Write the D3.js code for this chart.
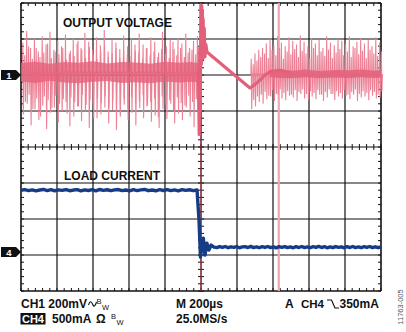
<!DOCTYPE html>
<html>
<head>
<meta charset="utf-8">
<script src="https://cdn.jsdelivr.net/npm/d3@7"></script>
<style>
  html, body { margin: 0; padding: 0; background: #fff; }
  svg { display: block; }
  text { font-family: "Liberation Sans", Arial, sans-serif; }
</style>
</head>
<body>
<svg id="chart" width="406" height="332"></svg>
<script>
// ---- Scope settings ----
const timeTicks = [-1000, -800, -600, -400, -200, 0, 200, 400, 600, 800, 1000]; // µs, 200 µs/div
const divTicks = [-4, -3, -2, -1, 0, 1, 2, 3, 4];
const ch1VoltsPerDiv = 200;   // mV/div
const ch1Offset = 2;          // divisions above centre
const ch4AmpsPerDiv = 500;    // mA/div
const ch4Offset = -2.92;      // divisions below centre
const cursorTime = 0;         // trigger position, µs
const markerTime = 432;       // second cursor, µs

// ---- CH1: output voltage (mV about the CH1 reference) ----
// main switching spikes before the load step
const rippleHiBefore = [180,245,150,200,130,215,170,240,140,190,160,225,120,205,175,150,235,185,140,210,165,250,130,195,180,145,220,160,200,135,230,170,150,210,185,125,240,160,195,145,205,175,230,150,190,215];
const rippleLoBefore = [-220,-160,-280,-190,-250,-170,-300,-210,-180,-265,-200,-150,-285,-230,-175,-255,-205,-295,-160,-240,-220,-180,-270,-195,-305,-230,-165,-250,-210,-280,-185,-240,-170,-260,-225,-295,-190,-245,-160,-270,-215,-250,-180,-230,-290,-200];
// smaller ringing between the main spikes
const ringHiBefore = [110,160,90,150,100,125,175,95,130,115,150,85,135,105,190,140,95,155,110,90,130,165,100,120,150,95,135,115,105,170,125,90,150,110,130,100,145,120,95,185,110,150,100,125,140,115];
const ringLoBefore = [-150,-110,-190,-130,-230,-120,-140,-185,-115,-160,-135,-215,-125,-150,-175,-110,-165,-140,-240,-130,-155,-120,-180,-145,-115,-220,-135,-190,-125,-160,-145,-110,-175,-150,-130,-235,-120,-165,-140,-195,-125,-155,-170,-115,-150,-135];
// dense ripple band before the step
const bandTimeBefore = [-1000,-920,-840,-760,-680,-600,-520,-440,-360,-280,-200,-120,-60,-14];
const bandHiBefore   = [66, 74, 62, 72, 68, 76, 64, 72, 70, 62, 74, 68, 72, 66];
const bandLoBefore   = [-36, -44, -32, -42, -46, -38, -34, -44, -40, -46, -36, -42, -38, -40];
// load-release transient and recovery
const stepTime = [-14, -10, -7, -4, -1, 2, 4, 6, 8, 10, 12, 15, 18, 22, 27, 33, 272, 300, 328, 355, 383, 439, 500];
const stepVolt = [20, -330, 150, -200, 390, 60, 385, 140, 360, 90, 310, 120, 260, 100, 170, 128, -72, -52, -28, 0, 17, 26, 12];
// switching spikes after recovery
const rippleHiAfter = [90,120,140,150,175,200,165,215,180,160,210,190,170,220,185,160,205,175,195,150,215,180,165,200,190,170,215,160,185,205,175,195,160,210,180];
const rippleLoAfter = [-190,-175,-150,-160,-135,-120,-145,-110,-130,-140,-115,-125,-145,-105,-130,-140,-120,-135,-110,-145,-125,-105,-140,-120,-130,-115,-135,-110,-145,-125,-120,-140,-115,-130,-125];
const ringHiAfter = [60,80,100,120,95,140,110,150,90,130,115,145,100,135,120,95,150,110,130,105,140,95,125,145,110,130,100,150,115,135,95,140,120,105,130];
const ringLoAfter = [-140,-120,-110,-95,-115,-85,-105,-80,-100,-90,-110,-85,-95,-80,-105,-90,-100,-85,-110,-95,-80,-105,-90,-100,-85,-110,-95,-80,-105,-90,-100,-85,-95,-110,-90];
const bandTimeAfter = [383, 439, 500, 580, 660, 740, 820, 900, 960, 1000];
const bandHiAfter   = [30, 26, 24, 30, 22, 28, 26, 30, 24, 28];
const bandLoAfter   = [-12, -16, -18, -12, -18, -14, -17, -12, -16, -14];

// ---- CH4: load current (mA) ----
const loadHigh = 860;
const loadLow = 69;
const loadHighJitter = [0,8,-6,5,-9,3,10,-5,7,-8,4,-3,9,-7,2,8,-10,5,-4,7,-8,10,-3,6,-7,4,9,-6,3,-9,7,-5,5,10,-7,3,-8,7,-4,9,-6,5,-9,8,-3,6,-7,4];
const loadLowJitter = [0,-7,8,-4,9,-8,5,-3,7,-9,4,8,-5,10,-7,3,-8,6,-4,9,-7,5,-10,7,-3,8,-6,4,-9,7,-5,9,-7,3,-8,6,-4,10,-5,7,-9,4,-7,8,-3,5,-9,7,-5,9,-6,3,-8,7,-4,9,-7,5,-8,5];
const dropTime = [-22, -11, -3, 13, 22, 33, 44, 56, 72];
const dropAmps = [860, 444, -69, 194, -42, 125, 28, 97, 69];

// ---- Scales ----
const plot = { left: 21, right: 381, top: 3, bottom: 291 };
const x = d3.scaleLinear().domain([timeTicks[0], timeTicks[timeTicks.length - 1]]).range([plot.left, plot.right]);
const yDiv = d3.scaleLinear().domain([divTicks[0], divTicks[divTicks.length - 1]]).range([plot.bottom, plot.top]);
const y1 = d3.scaleLinear()
  .domain([(divTicks[0] - ch1Offset) * ch1VoltsPerDiv, (divTicks[divTicks.length - 1] - ch1Offset) * ch1VoltsPerDiv])
  .range([plot.bottom, plot.top]);
const y4 = d3.scaleLinear()
  .domain([(divTicks[0] - ch4Offset) * ch4AmpsPerDiv, (divTicks[divTicks.length - 1] - ch4Offset) * ch4AmpsPerDiv])
  .range([plot.bottom, plot.top]);

const svg = d3.select("#chart");

// ---- Graticule ----
const grid = svg.append("g").attr("stroke", "#111").attr("fill", "none");
grid.selectAll("line.v").data(timeTicks).join("line")
  .attr("x1", d => x(d)).attr("x2", d => x(d))
  .attr("y1", plot.top).attr("y2", plot.bottom)
  .attr("stroke-width", (d, i) => (i === 0 || i === timeTicks.length - 1) ? 1.6 : 1.2);
grid.selectAll("line.h").data(divTicks).join("line")
  .attr("y1", d => yDiv(d)).attr("y2", d => yDiv(d))
  .attr("x1", plot.left).attr("x2", plot.right)
  .attr("stroke-width", (d, i) => (i === 0 || i === divTicks.length - 1) ? 1.6 : 1.2);

const minorT = d3.range(timeTicks[0], timeTicks[timeTicks.length - 1] + 1, 40);
const minorD = d3.range(divTicks[0], divTicks[divTicks.length - 1] + 0.001, 0.2);
const tk = 3;
const minor = svg.append("g").attr("stroke", "#111").attr("stroke-width", 1);
minor.selectAll("line.mt").data(minorT).join("line")
  .attr("x1", d => x(d)).attr("x2", d => x(d)).attr("y1", plot.top).attr("y2", plot.top + tk);
minor.selectAll("line.mb").data(minorT).join("line")
  .attr("x1", d => x(d)).attr("x2", d => x(d)).attr("y1", plot.bottom - tk).attr("y2", plot.bottom);
minor.selectAll("line.mc").data(minorT).join("line")
  .attr("x1", d => x(d)).attr("x2", d => x(d)).attr("y1", yDiv(0) - tk).attr("y2", yDiv(0) + tk);
minor.selectAll("line.ml").data(minorD).join("line")
  .attr("y1", d => yDiv(d)).attr("y2", d => yDiv(d)).attr("x1", plot.left).attr("x2", plot.left + tk);
minor.selectAll("line.mr").data(minorD).join("line")
  .attr("y1", d => yDiv(d)).attr("y2", d => yDiv(d)).attr("x1", plot.right - tk).attr("x2", plot.right);
minor.selectAll("line.mv").data(minorD).join("line")
  .attr("y1", d => yDiv(d)).attr("y2", d => yDiv(d)).attr("x1", x(0) - tk).attr("x2", x(0) + tk);

// ---- Cursors ----
svg.append("line")
  .attr("x1", x(markerTime)).attr("x2", x(markerTime)).attr("y1", plot.top).attr("y2", plot.bottom)
  .attr("stroke", "#f3a4b4").attr("stroke-width", 2.2);
svg.append("line")
  .attr("x1", x(cursorTime)).attr("x2", x(cursorTime)).attr("y1", plot.top).attr("y2", plot.bottom)
  .attr("stroke", "#c4344b").attr("stroke-width", 1);

// ---- CH1 trace ----
const line1 = d3.line().x(d => x(d[0])).y(d => y1(d[1]));
// each spike leaves the band, rings up and down, and returns
function spikes(t0, t1, hi, lo, base) {
  const step = (t1 - t0) / (hi.length - 1);
  const pts = [];
  hi.forEach((h, i) => {
    const t = t0 + i * step;
    pts.push([t, base], [t + 2, h], [t + 5, lo[i]], [t + 8, base]);
  });
  return pts;
}
const ch1 = svg.append("g");
const bandColor = "#e4607a";
const spikeColor = "#ec8196";

const spikeSets = [
  [-981, -31, ringHiBefore, ringLoBefore, 15],
  [-992, -22, rippleHiBefore, rippleLoBefore, 15],
  [288, 1000, ringHiAfter, ringLoAfter, 5],
  [277, 990, rippleHiAfter, rippleLoAfter, 5]
];
spikeSets.forEach(([t0, t1, hi, lo, base]) => {
  ch1.append("path")
    .datum(spikes(t0, t1, hi, lo, base))
    .attr("d", line1).attr("fill", "none")
    .attr("stroke", spikeColor).attr("stroke-width", 1.1);
});

const band = d3.area().x(d => x(d.t)).y0(d => y1(d.lo)).y1(d => y1(d.hi)).curve(d3.curveLinear);
ch1.append("path")
  .datum(bandTimeBefore.map((t, i) => ({ t, hi: bandHiBefore[i], lo: bandLoBefore[i] })))
  .attr("d", band).attr("fill", bandColor).attr("fill-opacity", 0.78);
ch1.append("path")
  .datum(bandTimeAfter.map((t, i) => ({ t, hi: bandHiAfter[i], lo: bandLoAfter[i] })))
  .attr("d", band).attr("fill", bandColor).attr("fill-opacity", 0.85);
ch1.append("path")
  .datum(stepTime.map((t, i) => [t, stepVolt[i]]))
  .attr("d", line1).attr("fill", "none").attr("stroke", bandColor).attr("stroke-width", 3.2)
  .attr("stroke-linejoin", "round");

// ---- CH4 trace ----
const line4 = d3.line().x(d => x(d[0])).y(d => y4(d[1]));
const hiStep = (dropTime[0] - timeTicks[0]) / (loadHighJitter.length - 1);
const loStep = (timeTicks[timeTicks.length - 1] - dropTime[dropTime.length - 1]) / (loadLowJitter.length - 1);
const ch4Pts = []
  .concat(loadHighJitter.map((j, i) => [timeTicks[0] + i * hiStep, loadHigh + j]))
  .concat(dropTime.map((t, i) => [t, dropAmps[i]]))
  .concat(loadLowJitter.map((j, i) => [dropTime[dropTime.length - 1] + i * loStep, loadLow + j]));
svg.append("path").datum(ch4Pts)
  .attr("d", line4).attr("fill", "none").attr("stroke", "#173c86").attr("stroke-width", 3.4)
  .attr("stroke-linejoin", "round");

// ---- Channel markers ----
function marker(yc, label) {
  const g = svg.append("g");
  g.append("path")
    .attr("d", `M1,${yc - 5}H16L21,${yc}L16,${yc + 5}H1Z`)
    .attr("fill", "#111");
  g.append("text").attr("x", 9).attr("y", yc + 3.5)
    .attr("text-anchor", "middle").attr("font-size", 9.5).attr("font-weight", "bold")
    .attr("fill", "#fff").text(label);
}
marker(y1(0), "1");
marker(y4(0), "4");

// ---- Trace labels ----
svg.append("text").attr("x", 63).attr("y", 27).attr("font-size", 12).attr("font-weight", "bold")
  .attr("fill", "#111").text("OUTPUT VOLTAGE");
svg.append("text").attr("x", 64).attr("y", 179.5).attr("font-size", 12).attr("font-weight", "bold")
  .attr("fill", "#111").text("LOAD CURRENT");

// ---- Readout ----
const ro = svg.append("g").attr("fill", "#111").attr("font-weight", "bold");
const row1 = 308, row2 = 323;
ro.append("text").attr("x", 21).attr("y", row1).attr("font-size", 12).text("CH1 200mV");
ro.append("path").attr("d", `M88.5,${row1 - 3} q2,-6 4,-1 t4,-2`)
  .attr("fill", "none").attr("stroke", "#111").attr("stroke-width", 1.1);
ro.append("text").attr("x", 96.5).attr("y", row1 - 4.5).attr("font-size", 7.5).attr("font-weight", "normal").text("B");
ro.append("text").attr("x", 102).attr("y", row1 + 1.5).attr("font-size", 7.5).attr("font-weight", "normal").text("W");

ro.append("rect").attr("x", 20.5).attr("y", row2 - 10).attr("width", 25).attr("height", 11.5).attr("fill", "#111");
ro.append("text").attr("x", 33).attr("y", row2).attr("text-anchor", "middle").attr("font-size", 11)
  .attr("fill", "#fff").text("CH4");
ro.append("text").attr("x", 52).attr("y", row2).attr("font-size", 12).text("500mA");
ro.append("text").attr("x", 96).attr("y", row2).attr("font-size", 12).text("Ω");
ro.append("text").attr("x", 111).attr("y", row2 - 4.5).attr("font-size", 7.5).attr("font-weight", "normal").text("B");
ro.append("text").attr("x", 116.5).attr("y", row2 + 1.5).attr("font-size", 7.5).attr("font-weight", "normal").text("W");

ro.append("text").attr("x", 176).attr("y", row1).attr("font-size", 12).text("M 200µs");
ro.append("text").attr("x", 176).attr("y", row2).attr("font-size", 12).text("25.0MS/s");

ro.append("text").attr("x", 285).attr("y", row1).attr("font-size", 12).text("A");
ro.append("text").attr("x", 301).attr("y", row1).attr("font-size", 11.5).text("CH4");
ro.append("path").attr("d", `M327,${row1 - 8}H331.5L335,${row1}H339`)
  .attr("fill", "none").attr("stroke", "#111").attr("stroke-width", 1.2);
ro.append("text").attr("x", 339.5).attr("y", row1).attr("font-size", 12).text("350mA");

svg.append("text").attr("transform", "translate(403,307) rotate(-90)")
  .attr("text-anchor", "middle").attr("font-size", 7.5).attr("fill", "#555").text("11763-005");
</script>
</body>
</html>
